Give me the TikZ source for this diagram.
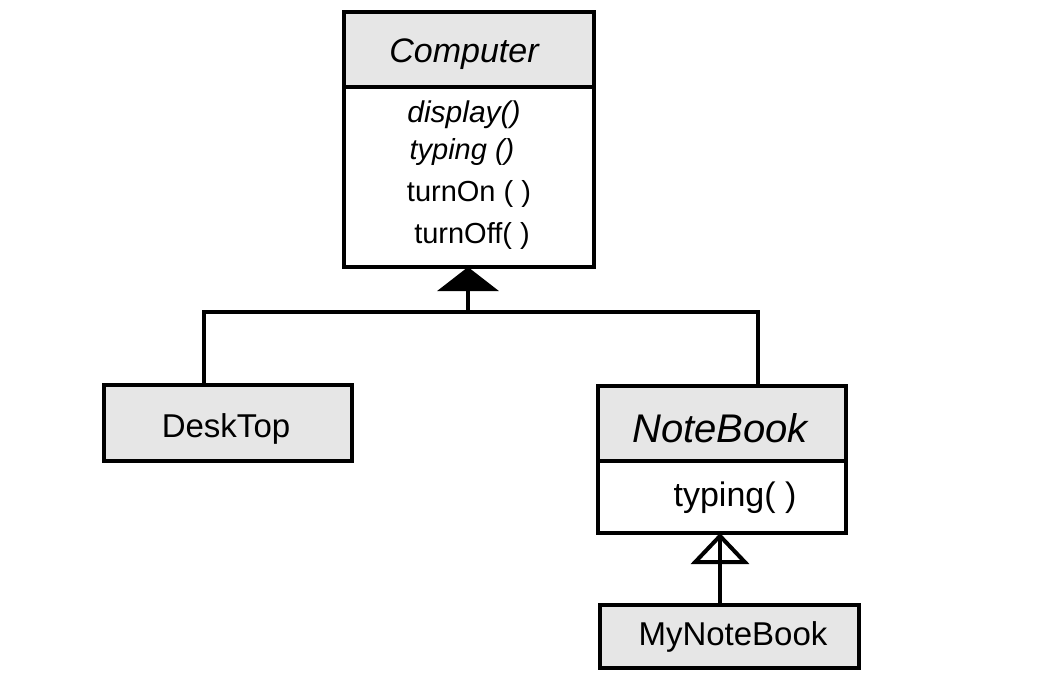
\documentclass[tikz,border=0pt]{standalone}
\usepackage{fontspec}
\setmainfont{Liberation Sans}
\usetikzlibrary{arrows.meta}
\definecolor{hdr}{HTML}{E6E6E6}
\begin{document}
\begin{tikzpicture}[x=1pt,y=-1pt,
  box/.style={draw=black,line width=4pt,inner sep=0pt,outer sep=0pt,anchor=north west},
  graybox/.style={box,fill=hdr},
  whitebox/.style={box,fill=white},
  conn/.style={line width=4pt},
  big/.style={font=\fontsize{33}{38}\selectfont},
  meth/.style={inner sep=0pt,font=\fontsize{29}{32}\selectfont}]
\useasboundingbox[fill=white] (0,0) rectangle (1039,683);
% Computer
\node[graybox,minimum width=250pt,minimum height=75pt] (comph) at (344,12) {};
\node[whitebox,minimum width=250pt,minimum height=180pt] (compb) at (344,87) {};
\node[inner sep=0pt,font=\itshape\fontsize{34}{38}\selectfont] (compt) at (464,54) {Computer};
\node[meth,font=\itshape\fontsize{30}{32}\selectfont] (m1) at (464,115) {display()};
\node[meth,font=\itshape\fontsize{29}{32}\selectfont] (m2) at (462,152) {typing ()};
\node[meth] (m3) at (469,194) {turnOn ( )};
\node[meth] (m4) at (472,236) {turnOff( )};
% DeskTop
\node[graybox,minimum width=248pt,minimum height=76pt] (desk) at (104,385) {};
\node[big,inner sep=0pt] (deskt) at (226,429) {DeskTop};
% NoteBook
\node[graybox,minimum width=248pt,minimum height=75pt] (noteh) at (598,386) {};
\node[whitebox,minimum width=248pt,minimum height=72pt] (noteb) at (598,461) {};
\node[inner sep=0pt,font=\itshape\fontsize{40}{44}\selectfont] (notet) at (720,428) {NoteBook};
\node[meth,font=\fontsize{34}{38}\selectfont] (nm1) at (735,498) {typing( )};
% MyNoteBook
\node[graybox,minimum width=259pt,minimum height=63pt] (mynote) at (600,605) {};
\node[inner sep=0pt,font=\fontsize{33}{38}\selectfont] (mynotet) at (733,637) {MyNoteBook};
% connectors
\coordinate (jl) at (204,312);
\coordinate (jm) at (468,312);
\coordinate (jr) at (758,312);
\coordinate (ax) at (720,0);
\draw[conn,line cap=butt] (jl |- desk.north) -- (jl) -- (jr) -- (jr |- noteh.north);
\draw[conn,-{Triangle[length=24pt,width=61pt]}] (jm) -- (jm |- compb.south);
\draw[conn] (ax |- mynote.north) -- (ax |- noteb.south);
\draw[conn,-{Triangle[open,length=31pt,width=58pt]}] (ax |- mynote.north) -- (ax |- noteb.south);
\end{tikzpicture}
\end{document}
